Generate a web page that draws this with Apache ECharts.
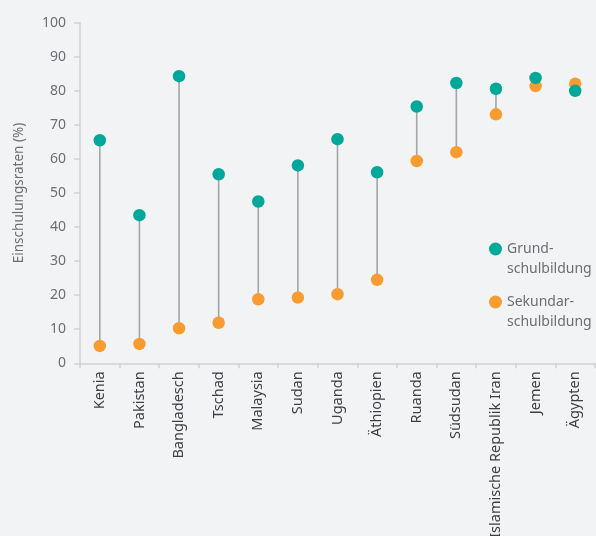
<!DOCTYPE html>
<html><head><meta charset="utf-8">
<script src="https://cdn.jsdelivr.net/npm/echarts@6/dist/echarts.min.js"></script>
<style>html,body{margin:0;padding:0;background:#f2f3f5}#c{width:596px;height:536px}</style>
</head><body><div id="c"></div>
<script>
const categories = ['Kenia','Pakistan','Bangladesch','Tschad','Malaysia','Sudan','Uganda','Äthiopien','Ruanda','Südsudan','Islamische Republik Iran','Jemen','Ägypten'];
const grundschule = [65.5, 43.5, 84.3, 55.5, 47.5, 58.1, 65.8, 56.1, 75.4, 82.3, 80.6, 83.8, 80.0];
const sekundarschule = [5.1, 5.7, 10.3, 11.9, 18.8, 19.3, 20.3, 24.5, 59.4, 62.0, 73.1, 81.4, 82.1];
const yTicks = [0,10,20,30,40,50,60,70,80,90,100];

const teal = '#00a89a', orange = '#f89c30', txt = '#6b6e72', axisCol = '#cfd1d4';
const font = '"Noto Sans", sans-serif';
const chart = echarts.init(document.getElementById('c'));
chart.setOption({
  backgroundColor: '#f2f3f5',
  animation: false,
  grid: {left: 80, right: 1, top: 22.7, bottom: 172.7, containLabel: false, outerBoundsMode: 'none'},
  legend: {
    orient: 'vertical', left: 489, top: 219, itemGap: -7, padding: 0,
    icon: 'circle', itemWidth: 13, itemHeight: 13,
    data: ['Grund-\nschulbildung', 'Sekundar-\nschulbildung'],
    formatter: n => ' \n' + n,
    textStyle: {color: txt, fontFamily: font, fontSize: 14, lineHeight: 20}
  },
  xAxis: {
    type: 'category', data: categories,
    axisLine: {lineStyle: {color: axisCol, width: 1.5}},
    axisTick: {show: true, length: 5, lineStyle: {color: axisCol, width: 1.5}},
    axisLabel: {rotate: 90, color: '#3c3f43', fontFamily: font, fontSize: 14.5, margin: 8, interval: 0}
  },
  yAxis: {
    type: 'value', min: 0, max: 100, interval: 10,
    name: 'Einschulungsraten (%)', nameLocation: 'middle', nameGap: 54, nameRotate: 90,
    nameTextStyle: {color: txt, fontFamily: font, fontSize: 13.5},
    axisLine: {show: true, lineStyle: {color: axisCol, width: 1.5}},
    axisTick: {show: true, length: 6, lineStyle: {color: axisCol, width: 1.5}},
    splitLine: {show: false},
    axisLabel: {color: txt, fontFamily: font, fontSize: 14, margin: 14,
      formatter: v => yTicks.indexOf(v) >= 0 ? String(v) : ''}
  },
  series: [
    {
      type: 'custom', silent: true, z: 1,
      data: categories.map((c, i) => [i, grundschule[i], sekundarschule[i]]),
      renderItem: (params, api) => {
        const p1 = api.coord([api.value(0), api.value(1)]);
        const p2 = api.coord([api.value(0), api.value(2)]);
        return {type: 'line', shape: {x1: p1[0], y1: p1[1], x2: p2[0], y2: p2[1]},
          style: {stroke: '#a3a5a8', lineWidth: 1.6}};
      }
    },
    {name: 'Sekundar-\nschulbildung', type: 'scatter', z: 2, symbolSize: 12.5,
      itemStyle: {color: orange, opacity: 1}, data: sekundarschule},
    {name: 'Grund-\nschulbildung', type: 'scatter', z: 3, symbolSize: 12.5,
      itemStyle: {color: teal, opacity: 1}, data: grundschule}
  ]
});
</script></body></html>
